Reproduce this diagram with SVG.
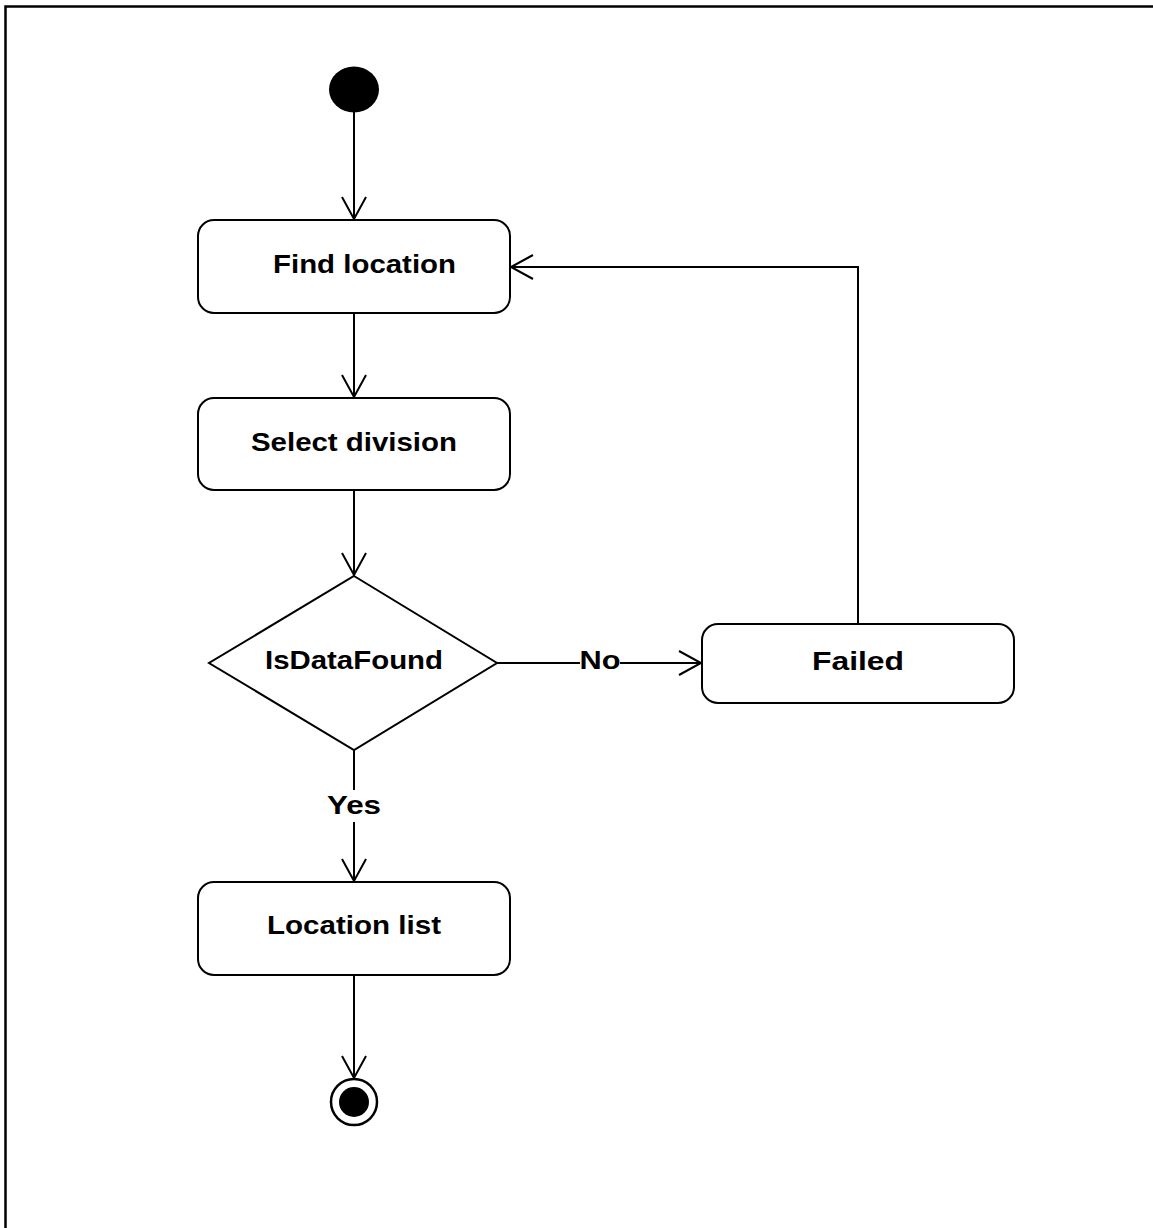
<svg xmlns="http://www.w3.org/2000/svg" width="1153" height="1228" viewBox="0 0 1153 1228">
<style>
.box{fill:#fff;stroke:#000;stroke-width:2}
.lbl{font-family:"Liberation Sans",Arial,sans-serif;font-weight:bold;font-size:26px;fill:#000;text-anchor:middle}
.edge{fill:none;stroke:#000;stroke-width:2}
.head{fill:none;stroke:#000;stroke-width:2}
</style>
<rect width="1153" height="1228" fill="#fff"/>
<path d="M5.5 1228 V6.5 H1153" fill="none" stroke="#000" stroke-width="2.5"/>
<g id="connectors">
  <path class="edge" d="M354 112 V219"/>
  <path class="head" d="M342 197 L354 219 L366 197"/>
  <path class="edge" d="M354 313 V397"/>
  <path class="head" d="M342 375 L354 397 L366 375"/>
  <path class="edge" d="M354 490 V575"/>
  <path class="head" d="M342 553 L354 575 L366 553"/>
  <path class="edge" d="M497 663 H580 M620 663 H701"/>
  <path class="head" d="M679 651 L701 663 L679 675"/>
  <path class="edge" d="M858 624 V267 H511"/>
  <path class="head" d="M533 255 L511 267 L533 279"/>
  <path class="edge" d="M354 750 V790 M354 822 V881"/>
  <path class="head" d="M342 859 L354 881 L366 859"/>
  <path class="edge" d="M354 975 V1078"/>
  <path class="head" d="M342 1056 L354 1078 L366 1056"/>
  <text class="lbl" x="600" y="669" textLength="41" lengthAdjust="spacingAndGlyphs">No</text>
  <text class="lbl" x="354" y="814" textLength="54" lengthAdjust="spacingAndGlyphs">Yes</text>
</g>
<g id="start"><ellipse cx="354" cy="89.5" rx="25" ry="23" fill="#000"/></g>
<g id="find-location">
  <rect class="box" x="198" y="220" width="312" height="93" rx="16"/>
  <text class="lbl" x="364.5" y="273" textLength="183" lengthAdjust="spacingAndGlyphs">Find location</text>
</g>
<g id="select-division">
  <rect class="box" x="198" y="398" width="312" height="92" rx="16"/>
  <text class="lbl" x="354" y="451" textLength="206" lengthAdjust="spacingAndGlyphs">Select division</text>
</g>
<g id="is-data-found">
  <polygon class="box" points="354,576 497,663 354,750 209,663"/>
  <text class="lbl" x="354" y="669" textLength="178" lengthAdjust="spacingAndGlyphs">IsDataFound</text>
</g>
<g id="failed">
  <rect class="box" x="702" y="624" width="312" height="79" rx="16"/>
  <text class="lbl" x="858" y="670" textLength="92" lengthAdjust="spacingAndGlyphs">Failed</text>
</g>
<g id="location-list">
  <rect class="box" x="198" y="882" width="312" height="93" rx="16"/>
  <text class="lbl" x="354" y="934" textLength="174" lengthAdjust="spacingAndGlyphs">Location list</text>
</g>
<g id="end">
  <circle cx="354" cy="1102" r="23" fill="#fff" stroke="#000" stroke-width="2.5"/>
  <circle cx="354" cy="1102" r="15" fill="#000"/>
</g>
</svg>
